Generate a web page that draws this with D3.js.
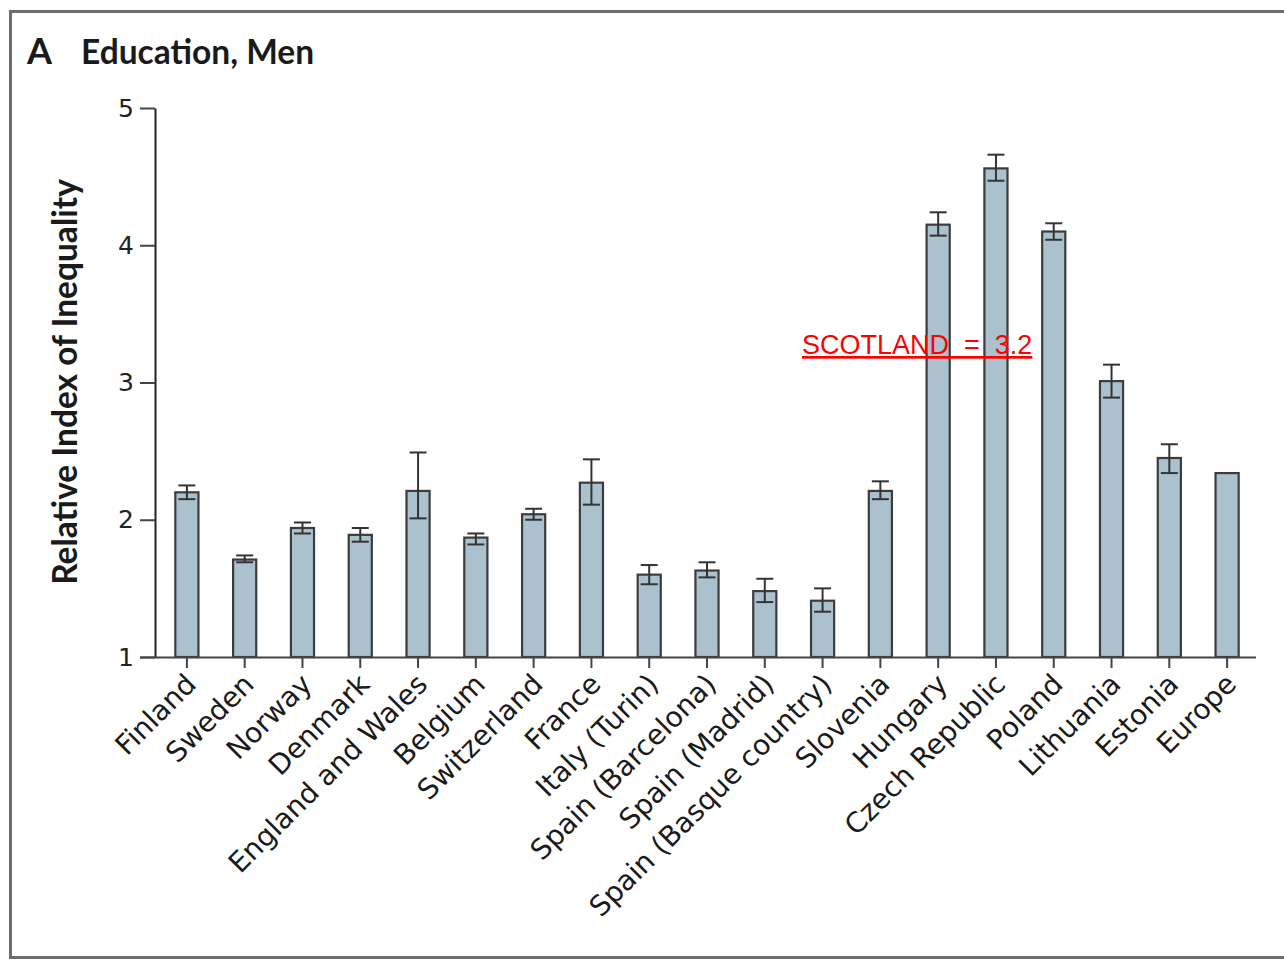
<!DOCTYPE html>
<html lang="en">
<head>
<meta charset="utf-8">
<title>Education, Men</title>
<script src="https://cdnjs.cloudflare.com/ajax/libs/d3/7.8.5/d3.min.js"></script>
<style>
  body { margin: 0; background: #fff; }
  svg { display: block; }
</style>
</head>
<body>
<div id="chart"></div>
<script>
// data
const countries = ['Finland', 'Sweden', 'Norway', 'Denmark', 'England and Wales', 'Belgium',
  'Switzerland', 'France', 'Italy (Turin)', 'Spain (Barcelona)', 'Spain (Madrid)',
  'Spain (Basque country)', 'Slovenia', 'Hungary', 'Czech Republic', 'Poland',
  'Lithuania', 'Estonia', 'Europe'];
const rii   = [2.20, 1.71, 1.94, 1.89, 2.21, 1.87, 2.04, 2.27, 1.60, 1.63, 1.48, 1.41, 2.21, 4.15, 4.56, 4.10, 3.01, 2.45, 2.34];
const lower = [2.15, 1.69, 1.90, 1.84, 2.01, 1.82, 2.00, 2.11, 1.53, 1.58, 1.40, 1.33, 2.15, 4.07, 4.47, 4.04, 2.89, 2.34, null];
const upper = [2.25, 1.74, 1.98, 1.94, 2.49, 1.90, 2.08, 2.44, 1.67, 1.69, 1.57, 1.50, 2.28, 4.24, 4.66, 4.16, 3.13, 2.55, null];
const yTicks = [1, 2, 3, 4, 5];

const w = 1284, h = 960;
const svg = d3.select('#chart').append('svg').attr('width', w).attr('height', h);

// frame
svg.append('rect')
  .attr('x', 10.5).attr('y', 11.5).attr('width', 1300).attr('height', 946)
  .attr('fill', 'none').attr('stroke', '#6e6e6e').attr('stroke-width', 3);

const xScale = d3.scaleBand()
  .domain(countries)
  .range([158, 1256])
  .paddingInner(0.6)
  .paddingOuter(0.3);

const yScale = d3.scaleLinear().domain([1, 5]).range([657, 108]);

const font = 'Lato, "Open Sans", sans-serif';
const labelFont = '"DejaVu Sans", Verdana, sans-serif';

// title
svg.append('text')
  .attr('x', 27).attr('y', 64)
  .style('font-family', font).style('font-weight', 700).style('font-size', '36px')
  .attr('fill', '#1a1a1a')
  .text('A');
svg.append('text')
  .attr('x', 81).attr('y', 64)
  .style('font-family', font).style('font-weight', 700).style('font-size', '33.5px')
  .attr('fill', '#1a1a1a')
  .text('Education, Men');

// y axis
const yAxis = d3.axisLeft(yScale).tickValues(yTicks).tickFormat(d3.format('d'))
  .tickSize(15).tickSizeOuter(0).tickPadding(6);
const gy = svg.append('g').attr('transform', 'translate(155,0)').call(yAxis);
gy.select('.domain').attr('stroke', '#222').attr('stroke-width', 2);
gy.selectAll('.tick line').attr('stroke', '#444').attr('stroke-width', 2);
gy.selectAll('.tick text')
  .style('font-family', labelFont).style('font-size', '25px').attr('fill', '#222');

svg.append('text')
  .attr('transform', 'translate(77,' + 382 + ') rotate(-90)')
  .attr('text-anchor', 'middle')
  .style('font-family', font).style('font-weight', 700).style('font-size', '33.5px')
  .attr('fill', '#1a1a1a')
  .text('Relative Index of Inequality');

// bars
svg.selectAll('.bar')
  .data(countries)
  .enter()
  .append('rect')
  .attr('class', 'bar')
  .attr('x', d => xScale(d))
  .attr('width', xScale.bandwidth())
  .attr('y', (d, i) => yScale(rii[i]))
  .attr('height', (d, i) => yScale(1) - yScale(rii[i]))
  .attr('fill', '#abc2ce')
  .attr('stroke', '#3c3c3c')
  .attr('stroke-width', 2.2);

// error bars
const errs = countries.map((c, i) => ({c: c, lo: lower[i], hi: upper[i]})).filter(d => d.lo != null);
const cap = 8.5;
const eb = svg.selectAll('.err').data(errs).enter().append('g').attr('class', 'err')
  .attr('stroke', '#333').attr('stroke-width', 2);
eb.append('line')
  .attr('x1', d => xScale(d.c) + xScale.bandwidth() / 2)
  .attr('x2', d => xScale(d.c) + xScale.bandwidth() / 2)
  .attr('y1', d => yScale(d.lo)).attr('y2', d => yScale(d.hi));
eb.append('line')
  .attr('x1', d => xScale(d.c) + xScale.bandwidth() / 2 - cap)
  .attr('x2', d => xScale(d.c) + xScale.bandwidth() / 2 + cap)
  .attr('y1', d => yScale(d.hi)).attr('y2', d => yScale(d.hi));
eb.append('line')
  .attr('x1', d => xScale(d.c) + xScale.bandwidth() / 2 - cap)
  .attr('x2', d => xScale(d.c) + xScale.bandwidth() / 2 + cap)
  .attr('y1', d => yScale(d.lo)).attr('y2', d => yScale(d.lo));

// x axis
const xAxis = d3.axisBottom(xScale).tickSize(11).tickSizeOuter(0).tickPadding(4);
const gx = svg.append('g').attr('transform', 'translate(0,657)').call(xAxis);
gx.select('.domain').attr('d', 'M140,0.5H1256').attr('stroke', '#444').attr('stroke-width', 2);
gx.selectAll('.tick line').attr('stroke', '#444').attr('stroke-width', 2);
gx.selectAll('.tick text')
  .attr('text-anchor', 'end')
  .attr('transform', 'translate(4,22) rotate(-45)')
  .attr('dy', '0.35em')
  .attr('y', 0)
  .style('font-family', labelFont).style('font-size', '28px').attr('fill', '#1a1a1a');

// annotation
svg.append('text')
  .attr('x', 802).attr('y', 354)
  .style('font-family', '"Liberation Sans", Arial, sans-serif').style('font-size', '27px')
  .attr('fill', '#ff0000')
  .attr('text-decoration', 'underline')
  .style('white-space', 'pre')
  .text('SCOTLAND  =  3.2');
</script>
</body>
</html>
